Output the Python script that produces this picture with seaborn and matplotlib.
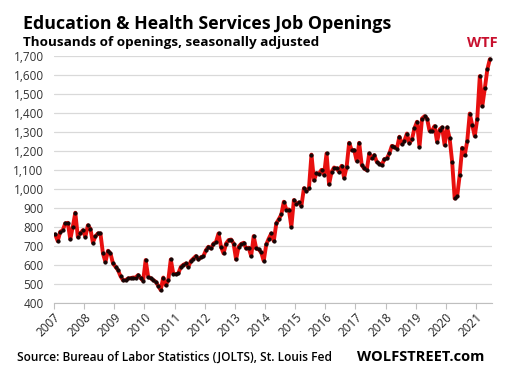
import numpy as np
import pandas as pd
import matplotlib
matplotlib.use('Agg')
import matplotlib.pyplot as plt
import seaborn as sns

# Monthly job openings, thousands (Jan 2007 - Jun 2021)
y2007 = [760, 725, 774, 782, 818, 821, 735, 800, 874, 747, 765, 782]
y2008 = [747, 808, 790, 717, 750, 765, 765, 660, 615, 674, 660, 607]
y2009 = [590, 572, 540, 519, 519, 528, 530, 533, 533, 546, 530, 516]
y2010 = [625, 537, 530, 520, 511, 490, 467, 533, 493, 519, 628, 554]
y2011 = [551, 555, 589, 600, 607, 589, 620, 633, 646, 628, 640, 646]
y2012 = [677, 695, 686, 712, 720, 765, 695, 660, 712, 730, 733, 712]
y2013 = [628, 695, 710, 716, 686, 690, 646, 751, 686, 681, 665, 621]
y2014 = [707, 738, 765, 725, 818, 840, 865, 932, 891, 891, 800, 941]
y2015 = [920, 928, 910, 1003, 991, 1003, 1180, 1044, 1082, 1080, 1100, 1074]
y2016 = [1186, 1023, 1089, 1112, 1107, 1089, 1121, 1058, 1116, 1242, 1204, 1204]
y2017 = [1147, 1242, 1125, 1107, 1098, 1186, 1160, 1177, 1142, 1133, 1125, 1156]
y2018 = [1160, 1186, 1226, 1221, 1212, 1274, 1235, 1253, 1291, 1239, 1261, 1318]
y2019 = [1353, 1221, 1370, 1382, 1370, 1305, 1305, 1330, 1247, 1312, 1323, 1230]
y2020 = [1323, 1265, 1142, 949, 961, 1072, 1216, 1177, 1251, 1396, 1335, 1277]
y2021 = [1370, 1593, 1435, 1528, 1628, 1682]

years = list(range(2007, 2022))
year_labels = [str(y) for y in years]
y_ticks = list(range(400, 1701, 100))

openings = (y2007 + y2008 + y2009 + y2010 + y2011 + y2012 + y2013 + y2014
            + y2015 + y2016 + y2017 + y2018 + y2019 + y2020 + y2021)
dates = pd.date_range('2007-01-01', periods=len(openings), freq='MS')

df = pd.DataFrame({'date': dates, 'openings': openings})
# decimal year, plotted mid-month
df['t'] = df['date'].dt.year + (df['date'].dt.month - 0.5) / 12

sns.set_style('white')
plt.rcParams['font.family'] = ['Open Sans', 'DejaVu Sans']

fig = plt.figure(figsize=(5.09, 3.72), dpi=100)
ax = fig.add_axes([0.106, 0.186, 0.860, 0.664])

sns.lineplot(
    data=df,
    x='t',
    y='openings',
    ax=ax,
    color='#e8100f',
    linewidth=2.8,
    marker='o',
    markersize=2.3,
    markerfacecolor='#150505',
    markeredgecolor='#150505',
    zorder=3
)

ax.set_xlim(2007, 2021.52)
ax.set_ylim(400, 1700)
ax.set_yticks(y_ticks)
ax.set_yticklabels([f'{v:,}' for v in y_ticks], fontsize=8.5, color='#333333')
ax.set_xticks(years)
ax.set_xticklabels(year_labels, rotation=45, ha='right',
                   rotation_mode='anchor', fontsize=8.5, color='#222222')

ax.grid(axis='y', color='#d9d9d9', linewidth=0.9)
ax.set_axisbelow(True)
for side in ['top', 'right', 'left']:
    ax.spines[side].set_visible(False)
ax.spines['bottom'].set_color('#bfbfbf')
ax.tick_params(axis='x', bottom=True, length=4, color='#bfbfbf', pad=2)
ax.tick_params(axis='y', left=False, pad=4)
ax.set_xlabel('')
ax.set_ylabel('')

fig.text(0.045, 0.935, 'Education & Health Services Job Openings',
         fontsize=12.8, fontweight='bold', color='black', va='center')
fig.text(0.045, 0.887, 'Thousands of openings, seasonally adjusted',
         fontsize=9.7, fontweight='bold', color='black', va='center')
fig.text(0.977, 0.885, 'WTF', fontsize=10.5, fontweight='bold',
         color='#c8102e', ha='right', va='center')
fig.text(0.033, 0.040, 'Source: Bureau of Labor Statistics (JOLTS), St. Louis Fed',
         fontsize=8.6, fontweight='semibold', color='black', va='center')
fig.text(0.952, 0.040, 'WOLFSTREET.com', fontsize=10.5, fontweight='bold',
         color='black', ha='right', va='center')

fig.savefig('out.png', dpi=100)
